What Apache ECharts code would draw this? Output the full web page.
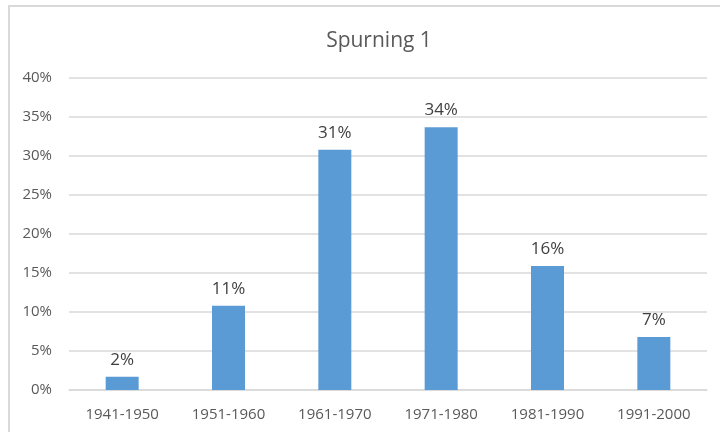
<!DOCTYPE html>
<html>
<head>
<meta charset="utf-8">
<script src="https://cdn.jsdelivr.net/npm/echarts@6/dist/echarts.min.js"></script>
<style>
  html, body { margin: 0; padding: 0; background: #fff; }
  #chart { width: 720px; height: 432px; }
</style>
</head>
<body>
<div id="chart"></div>
<script>
var categories = ['1941-1950', '1951-1960', '1961-1970', '1971-1980', '1981-1990', '1991-2000']
var shares = [1.7, 10.8, 30.8, 33.7, 15.9, 6.8]
var yTicks = [0, 5, 10, 15, 20, 25, 30, 35, 40]

var font = '"Open Sans", "Noto Sans", sans-serif'

var chart = echarts.init(document.getElementById('chart'), null, { renderer: 'canvas' })

chart.setOption({
  backgroundColor: '#fff',
  animation: false,
  title: {
    text: 'Spurning 1',
    left: 374,
    top: 26,
    textAlign: 'center',
    textStyle: { fontFamily: font, fontSize: 21, fontWeight: 'normal', color: '#595959' }
  },
  graphic: [{
    type: 'rect',
    shape: { x: 9, y: 6, width: 760, height: 480 },
    style: { fill: 'none', stroke: '#d9d9d9', lineWidth: 2 },
    silent: true
  }],
  grid: { left: 69, right: 13, top: 78, bottom: 42 },
  xAxis: {
    type: 'category',
    data: categories,
    axisTick: { show: false },
    axisLine: { lineStyle: { color: '#d9d9d9', width: 1.5 } },
    axisLabel: { fontFamily: font, fontSize: 15, color: '#595959', margin: 17 }
  },
  yAxis: {
    type: 'value',
    min: yTicks[0],
    max: yTicks[yTicks.length - 1],
    interval: yTicks[1] - yTicks[0],
    axisLine: { show: false },
    axisTick: { show: false },
    splitLine: { lineStyle: { color: '#d9d9d9', width: 1.5 } },
    axisLabel: {
      fontFamily: font, fontSize: 15, color: '#595959', margin: 17,
      formatter: function (v) { return v + '%' }
    }
  },
  series: [{
    type: 'bar',
    data: shares,
    barWidth: 33,
    itemStyle: { color: '#5b9bd5' },
    label: {
      show: true,
      position: 'top',
      distance: 8,
      fontFamily: font,
      fontSize: 17,
      color: '#404040',
      formatter: function (p) { return Math.round(p.value) + '%' }
    }
  }]
})
</script>
</body>
</html>
